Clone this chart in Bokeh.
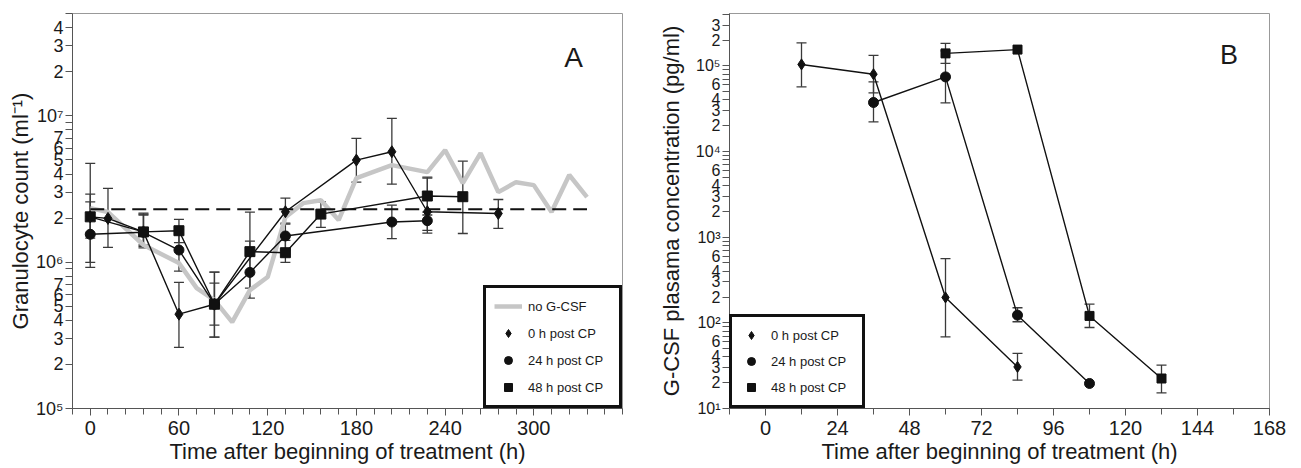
from bokeh.plotting import figure
from bokeh.layouts import row
from bokeh.models import (Range1d, FixedTicker, Whisker, ColumnDataSource, Legend,
                          LegendItem, Label, TeeHead, CustomJSTickFormatter)
from bokeh.embed import file_html
from bokeh.resources import INLINE

# ---------------- Panel A data (granulocyte count, ml^-1) ----------------
gray_h = [0, 12, 36, 60, 72, 84, 96, 108, 120, 132, 144, 156, 168, 180, 204, 228,
          240, 252, 264, 276, 288, 300, 312, 324, 336]
gray_v = [2.34e6, 2.20e6, 1.31e6, 9.85e5, 6.64e5, 5.50e5, 3.89e5, 6.44e5, 7.91e5,
          2.03e6, 2.53e6, 2.65e6, 1.94e6, 3.75e6, 4.60e6, 4.12e6, 5.83e6, 3.47e6,
          5.56e6, 3.01e6, 3.52e6, 3.36e6, 2.20e6, 3.94e6, 2.78e6]
ref_h = [0, 336]
ref_v = [2.30e6, 2.30e6]

a0_h = [0, 12, 36, 60, 84, 132, 180, 204, 228, 276]
a0_v = [2.04e6, 1.99e6, 1.61e6, 4.41e5, 5.16e5, 2.21e6, 4.98e6, 5.68e6, 2.21e6, 2.15e6]
a0_lo = [1.46e6, 1.26e6, 1.25e6, 2.62e5, 3.07e5, 1.85e6, 3.52e6, 3.41e6, 1.65e6, 1.70e6]
a0_hi = [2.92e6, 3.19e6, 2.13e6, 7.27e5, 8.54e5, 2.74e6, 7.01e6, 9.60e6, 3.75e6, 2.68e6]

a24_h = [0, 36, 60, 84, 108, 132, 204, 228]
a24_v = [1.55e6, 1.60e6, 1.21e6, 5.16e5, 8.51e5, 1.51e6, 1.88e6, 1.92e6]
a24_lo = [9.95e5, 1.28e6, 8.67e5, 3.71e5, 5.68e5, 1.21e6, 1.45e6, 1.58e6]
a24_hi = [2.58e6, 2.10e6, 1.68e6, 7.18e5, 1.39e6, 1.82e6, 2.45e6, 2.20e6]

a48_h = [0, 36, 60, 84, 108, 132, 156, 228, 252]
a48_v = [2.04e6, 1.61e6, 1.64e6, 5.16e5, 1.18e6, 1.16e6, 2.13e6, 2.83e6, 2.80e6]
a48_lo = [9.20e5, 1.31e6, 1.36e6, 3.07e5, 6.64e5, 9.95e5, 1.73e6, 2.10e6, 1.57e6]
a48_hi = [4.73e6, 2.16e6, 1.96e6, 8.54e5, 2.20e6, 1.41e6, 2.58e6, 3.81e6, 4.90e6]

# ---------------- Panel B data (G-CSF plasma concentration, pg/ml) ----------------
b0_h = [12, 36, 60, 84]
b0_v = [1.04e5, 8.0e4, 198, 30.6]
b0_lo = [5.69e4, 4.84e4, 68.5, 21.4]
b0_hi = [1.86e5, 1.33e5, 563, 43.9]

b24_h = [36, 60, 84, 108]
b24_v = [3.74e4, 7.44e4, 123, 19.6]
b24_err_h = [36, 60, 84]
b24_lo = [2.22e4, 3.70e4, 103]
b24_hi = [6.5e4, 1.50e5, 150]

b48_h = [60, 84, 108, 132]
b48_v = [1.40e5, 1.55e5, 120.5, 22.4]
b48_err_h = [60, 108, 132]
b48_lo = [1.07e5, 88.3, 15.2]
b48_hi = [1.83e5, 165, 32.1]

# ---------------- tick labels ----------------
a_xticks = [0, 60, 120, 180, 240, 300]
b_xticks = [0, 24, 48, 72, 96, 120, 144, 168]
a_decades = {5: "10\u2075", 6: "10\u2076", 7: "10\u2077"}
a_minor_labels = {5: ["2", "3", "4", "5", "6", "7"], 6: ["2", "3", "4", "5", "6", "7"],
                  7: ["2", "3", "4"]}
b_decades = {1: "10\u00b9", 2: "10\u00b2", 3: "10\u00b3", 4: "10\u2074", 5: "10\u2075"}
b_minor_labels = {1: ["2", "3", "4", "6"], 2: ["2", "3", "4", "6"], 3: ["2", "3", "4", "6"],
                  4: ["2", "3", "4", "6"], 5: ["2", "3"]}
legend_labels = ["no G-CSF", "0 h post CP", "24 h post CP", "48 h post CP"]

FONT = "Liberation Sans"
TXT = "#1a1a1a"
AXC = "#555555"


def log_ticks(decades, labeled, vmin, vmax):
    vals, labs = [], []
    for e in sorted(decades):
        for m in range(1, 10):
            v = m * 10.0 ** e
            if v < vmin * 0.999 or v > vmax * 1.001:
                continue
            vals.append(v)
            if m == 1:
                labs.append(decades[e])
            elif str(m) in labeled[e]:
                labs.append(str(m))
            else:
                labs.append("")
    return vals, labs


def style(p, xticks, xminor, yvals, ylabs, yfont, ylab_standoff):
    p.xaxis.ticker = FixedTicker(ticks=xticks, minor_ticks=xminor)
    p.yaxis.ticker = FixedTicker(ticks=yvals, minor_ticks=[])
    p.yaxis.formatter = CustomJSTickFormatter(args=dict(tv=yvals, tl=ylabs), code="""
        for (let i = 0; i < tv.length; i++) {
            if (Math.abs(tick - tv[i]) <= 1e-6 * tv[i]) return tl[i];
        }
        return "";
    """)
    p.xgrid.visible = False
    p.ygrid.visible = False
    p.outline_line_color = "#999999"
    for ax in (p.xaxis[0], p.yaxis[0]):
        ax.axis_line_color = AXC
        ax.major_tick_line_color = AXC
        ax.minor_tick_line_color = AXC
        ax.major_tick_in = 0
        ax.minor_tick_in = 0
        ax.major_tick_out = 7
        ax.minor_tick_out = 6
        ax.major_label_text_font = FONT
        ax.major_label_text_color = TXT
        ax.axis_label_text_font = FONT
        ax.axis_label_text_color = TXT
        ax.axis_label_text_font_style = "normal"
        ax.axis_label_text_font_size = "22px"
    p.xaxis.major_label_text_font_size = "20px"
    p.xaxis.major_label_standoff = 5
    p.xaxis.axis_label_standoff = 1
    p.yaxis.major_label_text_font_size = yfont
    p.yaxis.major_label_standoff = 2
    p.yaxis.axis_label_standoff = ylab_standoff
    p.background_fill_color = "white"
    p.border_fill_color = "white"


def errbars(p, h, lo, hi, w=10):
    src = ColumnDataSource(dict(h=h, lo=lo, hi=hi))
    wk = Whisker(source=src, base="h", lower="lo", upper="hi", dimension="height",
                 line_color="#3a3a3a", line_width=1.3,
                 lower_head=TeeHead(size=w, line_color="#3a3a3a", line_width=1.3),
                 upper_head=TeeHead(size=w, line_color="#3a3a3a", line_width=1.3))
    p.add_layout(wk)


def make_legend(items, padding, spacing, glyph_w, standoff, label_w, loc):
    lg = Legend(items=items, location=loc, margin=0, padding=padding, spacing=spacing,
                glyph_width=glyph_w, glyph_height=20, label_height=20,
                label_standoff=standoff, label_width=label_w,
                label_text_font=FONT, label_text_font_size="13px", label_text_color=TXT,
                border_line_color="#111111", border_line_width=3, border_line_alpha=1.0,
                background_fill_color="white", background_fill_alpha=1.0)
    return lg


H = 467
# ---------------- Panel A ----------------
A_YMIN, A_YMAX = 1e5, 5.0e7
pA = figure(width=655, height=H, x_range=Range1d(-12, 360), y_range=Range1d(A_YMIN, A_YMAX),
            y_axis_type="log", output_backend="svg", toolbar_location=None,
            min_border_left=72, min_border_right=33, min_border_top=13, min_border_bottom=H - 408)
pA.xaxis.axis_label = "Time after beginning of treatment (h)"
pA.yaxis.axis_label = "Granulocyte count (ml\u207b\u00b9)"
ya_vals, ya_labs = log_ticks(a_decades, a_minor_labels, A_YMIN, A_YMAX)
style(pA, a_xticks, list(range(-12, 361, 12)), ya_vals, ya_labs, "18px", 0)

g_gray = pA.line(gray_h, gray_v, line_color="#c6c6c6", line_width=4.5)
pA.line(ref_h, ref_v, line_color="#111111", line_width=2, line_dash="14 7")

errbars(pA, a0_h, a0_lo, a0_hi)
errbars(pA, a24_h, a24_lo, a24_hi)
errbars(pA, a48_h, a48_lo, a48_hi)

pA.line(a0_h, a0_v, line_color="#111111", line_width=1.4)
pA.line(a24_h, a24_v, line_color="#111111", line_width=1.4)
pA.line(a48_h, a48_v, line_color="#111111", line_width=1.4)
sa0 = pA.scatter(a0_h, a0_v, marker="diamond", size=12, color="#111111")
sa24 = pA.scatter(a24_h, a24_v, marker="circle", size=10, color="#111111")
sa48 = pA.scatter(a48_h, a48_v, marker="square", size=10, color="#111111")

pA.add_layout(Label(x=327, y=2.52e7, text="A", text_font=FONT, text_font_size="28px",
                    text_color=TXT, text_align="center", text_baseline="alphabetic"))

legA = make_legend([LegendItem(label=legend_labels[0], renderers=[g_gray]),
                    LegendItem(label=legend_labels[1], renderers=[sa0]),
                    LegendItem(label=legend_labels[2], renderers=[sa24]),
                    LegendItem(label=legend_labels[3], renderers=[sa48])],
                   padding=8, spacing=7, glyph_w=28, standoff=6, label_w=83, loc="bottom_right")
pA.add_layout(legA)

# ---------------- Panel B ----------------
B_YMIN, B_YMAX = 10, 4.09e5
pB = figure(width=640, height=H, x_range=Range1d(-12, 168), y_range=Range1d(B_YMIN, B_YMAX),
            y_axis_type="log", output_backend="svg", toolbar_location=None,
            min_border_left=64, min_border_right=26, min_border_top=13, min_border_bottom=H - 408)
pB.xaxis.axis_label = "Time after beginning of treatment (h)"
pB.yaxis.axis_label = "G-CSF plasama concentration (pg/ml)"
yb_vals, yb_labs = log_ticks(b_decades, b_minor_labels, B_YMIN, B_YMAX)
style(pB, b_xticks, list(range(-12, 169, 12)), yb_vals, yb_labs, "16px", 9)

errbars(pB, b0_h, b0_lo, b0_hi)
errbars(pB, b24_err_h, b24_lo, b24_hi)
errbars(pB, b48_err_h, b48_lo, b48_hi)

pB.line(b0_h, b0_v, line_color="#111111", line_width=1.4)
pB.line(b24_h, b24_v, line_color="#111111", line_width=1.4)
pB.line(b48_h, b48_v, line_color="#111111", line_width=1.4)
sb0 = pB.scatter(b0_h, b0_v, marker="diamond", size=11, color="#111111")
sb24 = pB.scatter(b24_h, b24_v, marker="circle", size=10, color="#111111")
sb48 = pB.scatter(b48_h, b48_v, marker="square", size=9, color="#111111")

pB.add_layout(Label(x=154.5, y=1.33e5, text="B", text_font=FONT, text_font_size="27px",
                    text_color=TXT, text_align="center", text_baseline="alphabetic"))

legB = make_legend([LegendItem(label=legend_labels[1], renderers=[sb0]),
                    LegendItem(label=legend_labels[2], renderers=[sb24]),
                    LegendItem(label=legend_labels[3], renderers=[sb48])],
                   padding=8, spacing=6, glyph_w=22, standoff=9, label_w=83, loc="bottom_left")
pB.add_layout(legB)

layout = row(pA, pB)
open("out.html", "w").write(file_html(layout, INLINE))
